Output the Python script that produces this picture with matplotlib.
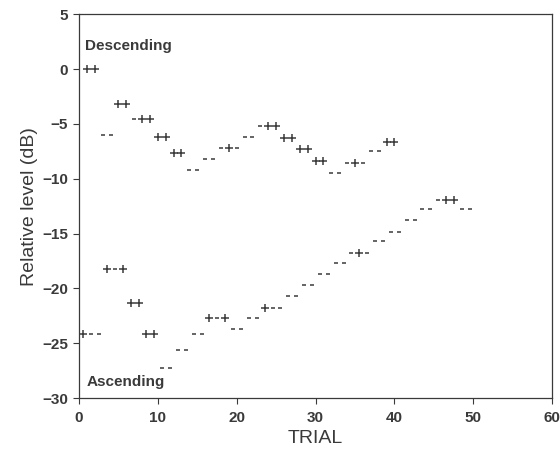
import matplotlib
matplotlib.use("Agg")
import matplotlib.pyplot as plt

plt.rcParams['font.family'] = ['Liberation Sans', 'DejaVu Sans']

# Descending track: level (dB) of each block and the responses given at it
desc_levels = [0, -6, -3.2, -4.6, -6.2, -7.7, -9.2, -8.2, -7.2, -6.2, -5.2,
               -6.3, -7.3, -8.4, -9.5, -8.6, -7.5, -6.7]
desc_resp = ["++", "--", "++", "-++", "++", "++", "--", "--", "-+-", "--",
             "-++", "++", "++", "++", "--", "-+-", "--", "++"]

# Ascending track (trials fall half-way between the descending ones)
asc_levels = [-24.2, -18.2, -21.3, -24.2, -27.3, -25.6, -24.2, -22.7, -23.7,
              -22.7, -21.8, -20.7, -19.7, -18.7, -17.7, -16.8, -15.7, -14.9,
              -13.8, -12.8, -11.9, -12.8]
asc_resp = ["+--", "+-+", "++", "++", "--", "--", "--", "+-+", "--", "--",
            "+--", "--", "--", "--", "--", "-+-", "--", "--", "--", "--",
            "-++", "--"]
asc_offset = -0.45

xticks = [0, 10, 20, 30, 40, 50, 60]
yticks = [5, 0, -5, -10, -15, -20, -25, -30]

ink = "#3a3a3a"


def expand(levels, resp, offset=0.0):
    # one point per trial
    plus_x, plus_y, minus_x, minus_y = [], [], [], []
    trial = 1
    for lev, r in zip(levels, resp):
        for c in r:
            if c == "+":
                plus_x.append(trial + offset)
                plus_y.append(lev)
            else:
                minus_x.append(trial + offset)
                minus_y.append(lev)
            trial += 1
    return plus_x, plus_y, minus_x, minus_y


fig = plt.figure(figsize=(5.6, 4.57), dpi=100)
ax = fig.add_axes([0.141, 0.129, 0.845, 0.840])

for levels, resp, off in [(desc_levels, desc_resp, 0.0),
                          (asc_levels, asc_resp, asc_offset)]:
    px, py, mx, my = expand(levels, resp, off)
    ax.plot(px, py, linestyle="none", marker="+", markersize=5.5,
            markeredgewidth=1.1, color=ink)
    ax.plot(mx, my, linestyle="none", marker="_", markersize=3.2,
            markeredgewidth=1.1, color=ink)

ax.text(0.8, 2.1, "Descending", fontsize=11, fontweight="bold", color=ink,
        va="center", ha="left")
ax.text(1.0, -28.5, "Ascending", fontsize=11, fontweight="bold", color=ink,
        va="center", ha="left")

ax.set_xlim(0, 60)
ax.set_ylim(-30, 5)
ax.set_xticks(xticks)
ax.set_yticks(yticks)
ax.tick_params(direction="out", length=4, width=0.8, colors=ink,
               labelsize=11)
ax.tick_params(axis="x", pad=5)
ax.tick_params(axis="y", pad=4)
for lab in ax.get_xticklabels() + ax.get_yticklabels():
    lab.set_fontweight("bold")
for sp in ax.spines.values():
    sp.set_color(ink)
    sp.set_linewidth(0.9)

ax.set_xlabel("TRIAL", fontsize=14, color=ink, labelpad=4)
ax.set_ylabel("Relative level (dB)", fontsize=14, color=ink, labelpad=3)

fig.savefig("out.png", dpi=100)
